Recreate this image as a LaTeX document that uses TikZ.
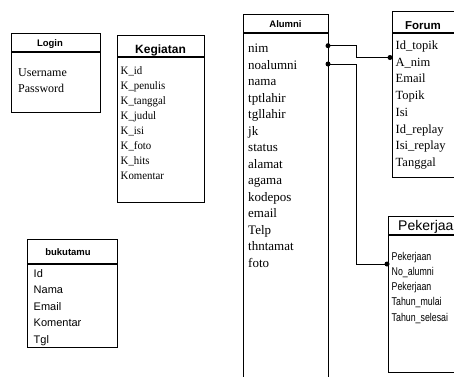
\documentclass[tikz,border=0pt]{standalone}
\usepackage{fontspec}
\setmainfont{Liberation Serif}
\setsansfont{Liberation Sans}
\newcommand\condtxt[1]{\scalebox{0.78}[1]{#1}}
\newcommand\condk[1]{\scalebox{0.95}[1]{#1}}
\begin{document}
\begin{tikzpicture}[x=1pt,y=-1pt,
  box/.style={draw, line width=1.1pt, anchor=north west, inner sep=0pt},
  hline/.style={line width=1.1pt},
  ttl/.style={font=\sffamily\bfseries\fontsize{9.5}{11}\selectfont, anchor=base, inner sep=0pt},
  fld/.style={anchor=base west, inner sep=0pt},
  dotc/.style={circle, fill=black, inner sep=0pt, minimum size=5pt},
  link/.style={line width=0.9pt}]
\useasboundingbox (0,0) rectangle (454,376);
\clip (0,0) rectangle (454,376);

% Login
\node[box, minimum width=89pt, minimum height=79pt] (login) at (11,33) {};
\draw[hline] (11,52) -- (100,52);
\node[ttl] (loginT) at (50,46.5) {Login};
\foreach \t [count=\i from 0] in {Username,Password}
  \node[fld, font=\fontsize{12}{14}\selectfont] (lg\i) at (18,76.7+16*\i) {\t};

% Kegiatan
\node[box, minimum width=87pt, minimum height=167pt] (keg) at (117,35) {};
\draw[hline] (117,57) -- (204,57);
\node[ttl, font=\sffamily\bfseries\fontsize{12}{14}\selectfont] (kegT) at (160.5,53) {Kegiatan};
\foreach \t [count=\i from 0] in {K\_id,K\_penulis,K\_tanggal,K\_judul,K\_isi,K\_foto,K\_hits,Komentar}
  \node[fld, font=\fontsize{11.4}{13}\selectfont] (kg\i) at (120.5,74.5+15*\i) {\condk{\t}};

% Alumni
\node[box, minimum width=85pt, minimum height=390pt] (alumni) at (243,14) {};
\draw[hline] (243,33) -- (328,33);
\node[ttl] (alT) at (285.5,27.5) {Alumni};
\foreach \t [count=\i from 0] in {nim,noalumni,nama,tptlahir,tgllahir,jk,status,alamat,agama,kodepos,email,Telp,thntamat,foto}
  \node[fld, font=\fontsize{13}{15}\selectfont] (al\i) at (248,52.5+16.54*\i) {\t};

% Forum
\node[box, minimum width=70pt, minimum height=166.3pt] (forum) at (392,10.7) {};
\draw[hline] (392,33) -- (462,33);
\node[ttl, font=\sffamily\bfseries\fontsize{11.5}{13}\selectfont] (foT) at (423,29) {Forum};
\foreach \t [count=\i from 0] in {Id\_topik,A\_nim,Email,Topik,Isi,Id\_replay,Isi\_replay,Tanggal}
  \node[fld, font=\fontsize{12.5}{14}\selectfont] (fo\i) at (395.5,49.5+16.7*\i) {\t};

% Pekerjaan
\node[box, minimum width=74pt, minimum height=156pt] (pek) at (388,216) {};
\draw[hline] (388,235) -- (462,235);
\node[anchor=base west, inner sep=0pt, font=\sffamily\fontsize{14}{16}\selectfont] (pkT) at (398,230) {Pekerjaan};
\foreach \t [count=\i from 0] in {Pekerjaan,No\_alumni,Pekerjaan,Tahun\_mulai,Tahun\_selesai}
  \node[fld, font=\sffamily\fontsize{11.3}{13}\selectfont] (pk\i) at (391.5,260+15.25*\i) {\condtxt{\t}};

% bukutamu
\node[box, minimum width=90pt, minimum height=108pt] (buku) at (27,239) {};
\draw[hline] (27,264) -- (117,264);
\node[ttl, font=\sffamily\bfseries\fontsize{9.5}{11}\selectfont] (bkT) at (68,255.5) {bukutamu};
\foreach \t [count=\i from 0] in {Id,Nama,Email,Komentar,Tgl}
  \node[fld, font=\sffamily\fontsize{11}{13}\selectfont] (bk\i) at (33.5,277.3+16.5*\i) {\t};

% connectors
\coordinate (nimR) at (328,45.7);
\coordinate (animL) at (390,57.5);
\coordinate (noalR) at (328,64);
\coordinate (pkL) at (387,264);
\draw[link] (nimR) -- ++(28,0) |- (animL);
\draw[link] (noalR) -- ++(28,0) |- (pkL);
\node[dotc] (d1) at (nimR) {};
\node[dotc] (d2) at (animL) {};
\node[dotc] (d3) at (noalR) {};
\node[dotc] (d4) at (pkL) {};
\end{tikzpicture}
\end{document}
